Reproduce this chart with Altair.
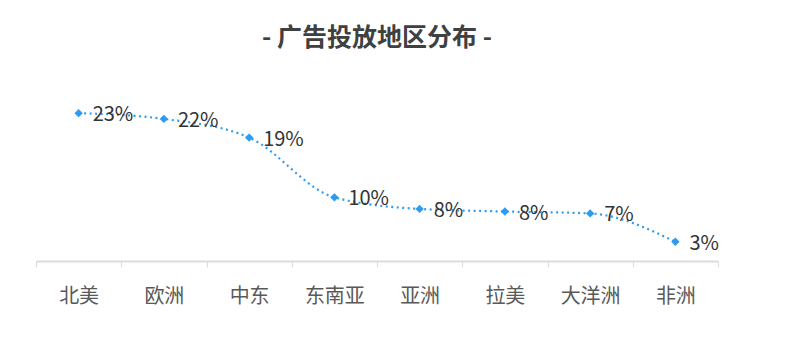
import altair as alt
import pandas as pd

regions = ["北美", "欧洲", "中东", "东南亚", "亚洲", "拉美", "大洋洲", "非洲"]
shares = [23.0, 22.1, 19.2, 9.9, 8.1, 7.7, 7.4, 3.0]
labels = ["23%", "22%", "19%", "10%", "8%", "8%", "7%", "3%"]

df = pd.DataFrame({"region": regions, "share": shares, "label": labels})

FONT = "Noto Sans CJK SC"
BLUE = "#2d9cf0"

x = alt.X("region:N", sort=regions, title=None,
          scale=alt.Scale(paddingInner=0, paddingOuter=0),
          axis=alt.Axis(labelAngle=0, labelFont=FONT, labelFontSize=20,
                        labelColor="#595959", labelPadding=19,
                        domainColor="#dcdcdc", domainWidth=2,
                        tickColor="#dcdcdc", tickWidth=1, tickSize=6,
                        tickBand="extent", grid=False))
y = alt.Y("share:Q", title=None,
          scale=alt.Scale(domain=[0, 28], nice=False, zero=True),
          axis=None)

line = alt.Chart(df).mark_line(
    color=BLUE, strokeWidth=2.2, strokeDash=[2, 3.5], interpolate="monotone"
).encode(x=x, y=y)

pts = alt.Chart(df).mark_point(
    shape="diamond", filled=True, color=BLUE, size=70, opacity=1
).encode(x=x, y=y)

txt = alt.Chart(df).mark_text(
    align="left", baseline="middle", dx=14, dy=2,
    font=FONT, fontSize=20, color="#333333"
).encode(x=x, y=y, text="label:N")

chart = (line + pts + txt).properties(
    width=682, height=180,
    background="white",
    title=alt.TitleParams("- 广告投放地区分布 -", font=FONT, fontSize=25,
                          fontWeight="bold", color="#404040",
                          anchor="middle", offset=30),
    padding={"left": 36, "top": 81, "right": 69, "bottom": 94},
    autosize=alt.AutoSizeParams(type="none"),
).configure_view(strokeWidth=0, stroke="transparent")

chart.save("out.html", embed_options={"renderer": "svg", "actions": False})
